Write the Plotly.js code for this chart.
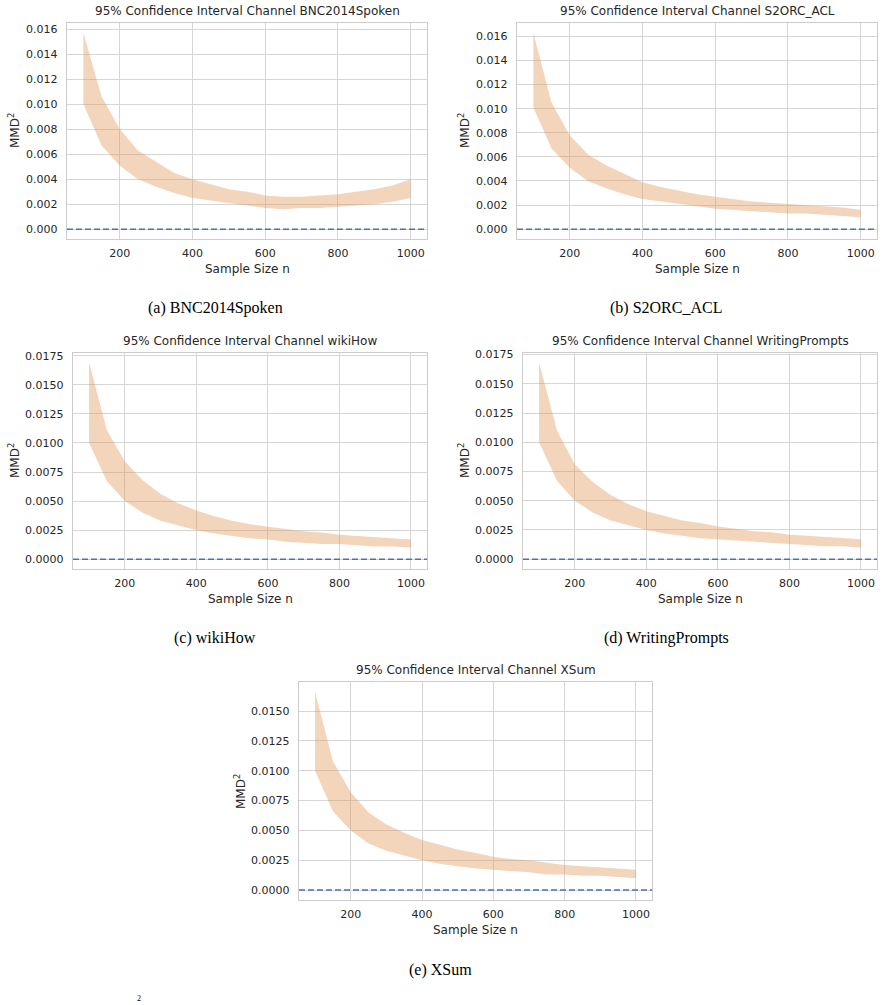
<!DOCTYPE html>
<html>
<head>
<meta charset="utf-8">
<script src="https://cdn.plot.ly/plotly-3.0.1.min.js"></script>
<style>html,body{margin:0;padding:0;background:#fff;}#chart{width:884px;height:1005px;}</style>
</head>
<body>
<div id="chart"></div>
<script>
// ---- data ----
const sampleSizes = [100,150,200,250,300,350,400,450,500,550,600,650,700,750,800,850,900,950,1000];

const channels = ["BNC2014Spoken","S2ORC_ACL","wikiHow","WritingPrompts","XSum"];
const captions = ["(a) BNC2014Spoken","(b) S2ORC_ACL","(c) wikiHow","(d) WritingPrompts","(e) XSum"];

const upperBNC = [0.0157,0.0106,0.0080,0.0063,0.0054,0.0045,0.0040,0.0036,0.0032,0.0030,0.0027,0.0026,0.0026,0.0027,0.0028,0.0030,0.0032,0.0035,0.0040];
const lowerBNC = [0.0100,0.0067,0.0051,0.0040,0.0034,0.0029,0.0025,0.0023,0.0021,0.0019,0.0017,0.0016,0.0017,0.0017,0.0018,0.0019,0.0020,0.0022,0.0025];

const upperS2ORC = [0.0163,0.0105,0.0078,0.0062,0.0053,0.0046,0.0039,0.0035,0.0032,0.0029,0.0027,0.0025,0.0023,0.0022,0.0021,0.0020,0.0019,0.0018,0.0016];
const lowerS2ORC = [0.0101,0.0067,0.0051,0.0040,0.0034,0.0029,0.0025,0.0023,0.0021,0.0019,0.0017,0.0016,0.0015,0.0014,0.0013,0.0013,0.0012,0.0011,0.0010];

const upperWikiHow = [0.0169,0.0111,0.0084,0.0068,0.0056,0.0048,0.0042,0.0037,0.0033,0.0030,0.0028,0.0026,0.0024,0.0023,0.0021,0.0020,0.0019,0.0018,0.0017];
const lowerWikiHow = [0.0100,0.0067,0.0050,0.0040,0.0033,0.0029,0.0025,0.0022,0.0020,0.0018,0.0017,0.0015,0.0014,0.0013,0.0013,0.0012,0.0011,0.0011,0.0010];

const upperWP = [0.0168,0.0110,0.0081,0.0066,0.0055,0.0047,0.0041,0.0037,0.0033,0.0031,0.0028,0.0026,0.0024,0.0023,0.0021,0.0020,0.0019,0.0018,0.0017];
const lowerWP = [0.0100,0.0067,0.0050,0.0040,0.0033,0.0029,0.0025,0.0022,0.0020,0.0018,0.0017,0.0016,0.0015,0.0014,0.0013,0.0012,0.0011,0.0011,0.0010];

const upperXSum = [0.0166,0.0108,0.0082,0.0065,0.0055,0.0048,0.0042,0.0038,0.0034,0.0031,0.0028,0.0026,0.0025,0.0023,0.0021,0.0020,0.0019,0.0018,0.0017];
const lowerXSum = [0.0100,0.0066,0.0050,0.0039,0.0033,0.0029,0.0025,0.0022,0.0020,0.0018,0.0017,0.0016,0.0015,0.0013,0.0013,0.0012,0.0012,0.0011,0.0010];

const uppers = [upperBNC, upperS2ORC, upperWikiHow, upperWP, upperXSum];
const lowers = [lowerBNC, lowerS2ORC, lowerWikiHow, lowerWP, lowerXSum];

const xTicks = [200,400,600,800,1000];

// ---- layout geometry (pixels) ----
const W = 884, H = 1005;
const boxes = [
  {l:67,  r:427, t:23,  b:239},
  {l:517, r:877, t:23,  b:239},
  {l:73,  r:427, t:353, b:569},
  {l:523, r:877, t:353, b:569},
  {l:299, r:652, t:682, b:900}
];
const captionPos = [[215,308],[666,308],[215,638],[666,638],[440,970]];

const px = v => v / W;
const py = v => 1 - v / H;

const textColor = '#262626';
const gridColor = '#d6d6d6';
const frameColor = '#cccccc';
const bandColor = 'rgba(222,150,85,0.4)';

const traces = [];
const layout = {
  width: W, height: H,
  margin: {l:0, r:0, t:0, b:0},
  paper_bgcolor: '#ffffff',
  plot_bgcolor: '#ffffff',
  showlegend: false,
  font: {family: 'DejaVu Sans, sans-serif', size: 11, color: textColor},
  annotations: [],
  shapes: []
};

for (let i = 0; i < 5; i++) {
  const xa = i === 0 ? 'x' : 'x' + (i + 1);
  const ya = i === 0 ? 'y' : 'y' + (i + 1);
  const up = uppers[i], lo = lowers[i];
  traces.push({
    x: sampleSizes.concat(sampleSizes.slice().reverse()),
    y: up.concat(lo.slice().reverse()),
    xaxis: xa, yaxis: ya,
    type: 'scatter', mode: 'lines',
    fill: 'toself', fillcolor: bandColor,
    line: {width: 0, color: 'rgba(0,0,0,0)'},
    hoverinfo: 'skip'
  });
  const hi = Math.max(...up);
  const mn = Math.min(0, ...lo);
  const span = hi - mn;
  const yr = [mn - 0.05 * span, hi + 0.05 * span];
  const b = boxes[i];
  const bigStep = i >= 2;
  const axBase = {
    showgrid: true, gridcolor: gridColor, gridwidth: 1,
    zeroline: false, showline: true, linecolor: frameColor, linewidth: 1.25,
    mirror: true, ticks: '', tickfont: {family: 'DejaVu Sans, sans-serif', size: 11, color: textColor}
  };
  layout['xaxis' + (i === 0 ? '' : i + 1)] = Object.assign({}, axBase, {
    domain: [px(b.l), px(b.r)], anchor: ya,
    range: [55, 1045], tickvals: xTicks, ticktext: xTicks.map(String),
    ticklabelstandoff: 4
  });
  const step = bigStep ? 0.0025 : 0.002;
  const yt = [];
  for (let v = 0; v <= yr[1] + 1e-12; v += step) yt.push(+v.toFixed(4));
  layout['yaxis' + (i === 0 ? '' : i + 1)] = Object.assign({}, axBase, {
    domain: [py(b.b), py(b.t)], anchor: xa,
    range: yr, tickvals: yt, ticktext: yt.map(v => v.toFixed(bigStep ? 4 : 3)),
    ticklabelstandoff: 6
  });
  // dashed zero line
  layout.shapes.push({
    type: 'line', xref: xa + ' domain', yref: ya,
    x0: 0, x1: 1, y0: 0, y1: 0,
    line: {color: '#4c72b0', width: 1.5, dash: '6px,3px'}
  });
  // title
  layout.annotations.push({
    xref: 'paper', yref: 'paper', x: px((b.l + b.r) / 2), y: py(b.t - 3),
    xanchor: 'center', yanchor: 'bottom', showarrow: false,
    text: '95% Confidence Interval Channel ' + channels[i],
    font: {family: 'DejaVu Sans, sans-serif', size: 12, color: textColor}
  });
  // x-axis title
  layout.annotations.push({
    xref: 'paper', yref: 'paper', x: px((b.l + b.r) / 2), y: py(b.b + 30),
    xanchor: 'center', yanchor: 'middle', showarrow: false,
    text: 'Sample Size n',
    font: {family: 'DejaVu Sans, sans-serif', size: 12, color: textColor}
  });
  // y-axis title
  const yTitleX = [14, 464, 14, 464, 240][i];
  layout.annotations.push({
    xref: 'paper', yref: 'paper', x: px(yTitleX), y: py((b.t + b.b) / 2),
    xanchor: 'center', yanchor: 'middle', showarrow: false, textangle: -90,
    text: 'MMD<sup>2</sup>',
    font: {family: 'DejaVu Sans, sans-serif', size: 12, color: textColor}
  });
  // caption
  layout.annotations.push({
    xref: 'paper', yref: 'paper', x: px(captionPos[i][0]), y: py(captionPos[i][1]),
    xanchor: 'center', yanchor: 'middle', showarrow: false,
    text: captions[i],
    font: {family: 'Liberation Serif, Times New Roman, serif', size: 16, color: '#000000'}
  });
}
// small fragment at the bottom of the page
layout.annotations.push({
  xref: 'paper', yref: 'paper', x: px(139), y: py(1005),
  xanchor: 'center', yanchor: 'bottom', showarrow: false,
  text: '2', font: {family: 'Liberation Serif, serif', size: 8, color: '#000000'}
});

Plotly.newPlot('chart', traces, layout, {staticPlot: true, displayModeBar: false});
</script>
</body>
</html>
